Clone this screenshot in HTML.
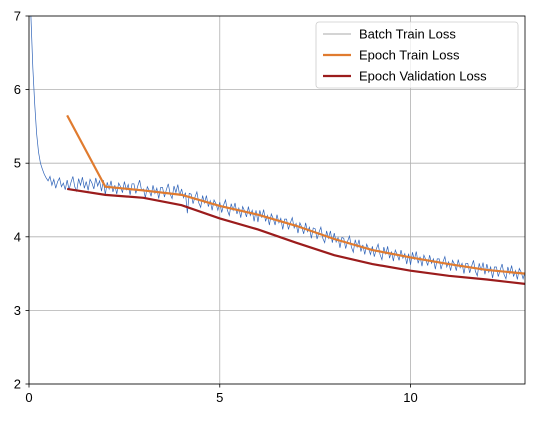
<!DOCTYPE html>
<html><head><meta charset="utf-8"><style>
html,body{margin:0;padding:0;background:#fff;}
svg text{font-family:"Liberation Sans","DejaVu Sans",sans-serif;font-size:13px;fill:#000;}
</style></head><body>
<svg id="chart" width="538" height="418" viewBox="0 0 538 418">
<defs><clipPath id="plotclip"><rect x="29" y="16" width="496" height="368"/></clipPath></defs>
<rect x="29" y="16" width="496" height="368" fill="#fff"/>
<g id="grid"></g>
<g id="series" clip-path="url(#plotclip)"></g>
<rect x="29" y="16" width="496" height="368" fill="none" stroke="#000" stroke-width="0.8"/>
<g id="axes"></g>
<g>
<rect x="316" y="22" width="202" height="66" rx="3" fill="#fff" fill-opacity="0.8" stroke="#ccc" stroke-width="0.8"/>
<g><line x1="323" y1="34" x2="351" y2="34" stroke="#555" stroke-width="0.6"/><text x="359" y="38.5">Batch Train Loss</text></g>
<g><line x1="323" y1="55" x2="351" y2="55" stroke="#e07b2f" stroke-width="2.2"/><text x="359" y="59.5">Epoch Train Loss</text></g>
<g><line x1="323" y1="76" x2="351" y2="76" stroke="#9b1c1c" stroke-width="2.2"/><text x="359" y="80.5">Epoch Validation Loss</text></g>
</g>
</svg>
<script>
const xTicks=[0,5,10];
const yTicks=[2,3,4,5,6,7];
const epochs=[1,2,3,4,5,6,7,8,9,10,11,12,13];
const epochTrain=[5.65,4.68,4.63,4.57,4.42,4.3,4.15,3.97,3.82,3.72,3.63,3.55,3.5];
const epochVal=[4.65,4.57,4.53,4.43,4.25,4.1,3.92,3.75,3.63,3.54,3.47,3.42,3.36];
const batchStep=0.05;
const batchLoss=[
7.8,7.0,6.3,5.8,5.4,5.15,5.0,4.92,4.85,4.8,4.76,4.82,4.7,4.78,4.66,4.75,4.8,4.68,4.73,4.64,
4.77,4.64,4.74,4.82,4.68,4.62,4.79,4.70,4.81,4.66,4.75,4.63,4.78,4.73,4.65,4.80,4.69,4.76,4.62,4.77,
4.57,4.74,4.65,4.76,4.61,4.70,4.58,4.73,4.68,4.60,4.75,4.64,4.71,4.57,4.72,4.72,4.59,4.69,4.77,4.63,
4.65,4.53,4.68,4.63,4.55,4.70,4.59,4.66,4.52,4.67,4.67,4.54,4.64,4.72,4.58,4.52,4.69,4.60,4.71,4.56,
4.65,4.53,4.60,4.32,4.59,4.58,4.45,4.54,4.61,4.46,4.40,4.56,4.46,4.56,4.41,4.49,4.36,4.50,4.45,4.36,
4.47,4.33,4.43,4.50,4.36,4.29,4.45,4.36,4.46,4.31,4.39,4.26,4.41,4.35,4.27,4.41,4.29,4.36,4.21,4.36,
4.20,4.36,4.26,4.37,4.21,4.29,4.16,4.31,4.25,4.16,4.30,4.19,4.25,4.10,4.24,4.24,4.10,4.19,4.26,4.12,
4.18,4.05,4.19,4.13,4.04,4.19,4.07,4.13,3.98,4.12,4.11,3.97,4.06,4.13,3.98,3.92,4.08,3.98,4.08,3.92,
4.05,3.93,3.99,3.85,3.99,3.98,3.84,3.94,4.01,3.86,3.79,3.96,3.86,3.96,3.80,3.89,3.76,3.90,3.84,3.76,
3.87,3.73,3.83,3.90,3.76,3.69,3.86,3.76,3.87,3.71,3.80,3.67,3.82,3.76,3.68,3.82,3.71,3.77,3.63,3.77,
3.62,3.79,3.69,3.80,3.64,3.73,3.60,3.75,3.69,3.61,3.75,3.64,3.70,3.56,3.70,3.70,3.56,3.66,3.73,3.59,
3.66,3.54,3.68,3.63,3.54,3.69,3.58,3.64,3.50,3.64,3.64,3.51,3.60,3.68,3.53,3.47,3.64,3.54,3.65,3.49,
3.63,3.52,3.59,3.44,3.59,3.59,3.46,3.55,3.63,3.49,3.43,3.59,3.50,3.61,3.46,3.54,3.42,3.57,3.52,3.43,
3.52];
const X=v=>29+v*(496/13);
const Y=v=>384-(v-2)*(368/5);
const NS='http://www.w3.org/2000/svg';
function mk(tag,attrs,parent){const e=document.createElementNS(NS,tag);for(const k in attrs)e.setAttribute(k,attrs[k]);parent.appendChild(e);return e;}
const grid=document.getElementById('grid'),axes=document.getElementById('axes'),series=document.getElementById('series');
xTicks.forEach(t=>{
 const g=mk('line',{x1:X(t),x2:X(t),y1:16,y2:384,stroke:'#b0b0b0','stroke-width':0.8},grid);
 
 
 const tk=mk('line',{x1:X(t),x2:X(t),y1:384,y2:387.5,stroke:'#000','stroke-width':0.8},axes);
 
 
 const tx=mk('text',{x:X(t),y:402,'text-anchor':'middle'},axes);tx.textContent=t;
 
 
});
yTicks.forEach(t=>{
 const g=mk('line',{x1:29,x2:525,y1:Y(t),y2:Y(t),stroke:'#b0b0b0','stroke-width':0.8},grid);
 
 
 const tk=mk('line',{x1:25.5,x2:29,y1:Y(t),y2:Y(t),stroke:'#000','stroke-width':0.8},axes);
 
 
 const tx=mk('text',{x:21,y:Y(t)+4.5,'text-anchor':'end'},axes);tx.textContent=t;
 
 
});
const bp=mk('polyline',{points:batchLoss.map((v,i)=>X(i*batchStep)+','+Y(v)).join(' '),fill:'none',stroke:'#2f63b8','stroke-width':0.7},series);


const tp=mk('polyline',{points:epochTrain.map((v,i)=>X(epochs[i])+','+Y(v)).join(' '),fill:'none',stroke:'#e07b2f','stroke-width':2.2},series);


const vp=mk('polyline',{points:epochVal.map((v,i)=>X(epochs[i])+','+Y(v)).join(' '),fill:'none',stroke:'#9b1c1c','stroke-width':2.2},series);


</script>
</body></html>
